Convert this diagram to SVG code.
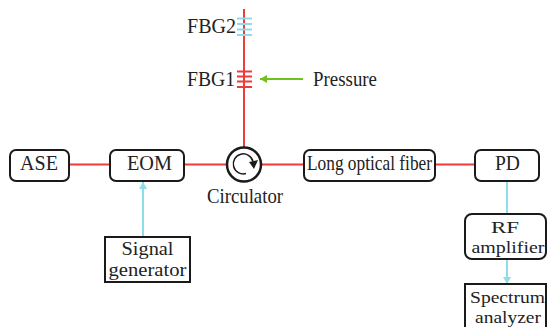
<svg xmlns="http://www.w3.org/2000/svg" width="547" height="327" viewBox="0 0 547 327">
<defs>
<marker id="blue" markerUnits="userSpaceOnUse" markerWidth="8" markerHeight="8" refX="7" refY="4" orient="auto"><path d="M0 0L7 4L0 8Z" fill="#8fdcea"/></marker>
<marker id="green" markerUnits="userSpaceOnUse" markerWidth="8" markerHeight="8" refX="7" refY="4" orient="auto"><path d="M0 0L7 4L0 8Z" fill="#6fc21a"/></marker>
</defs>
<style>
text{font-family:"Liberation Serif","Times New Roman",serif;fill:#222;text-anchor:middle;font-size:21px}
.two{font-size:18.500px}
.tight{font-size:17px}
.box{fill:#fff;stroke:#1a1a1a;stroke-width:2}
.r{stroke:#ee3b3b;stroke-width:2;fill:none}
.b{stroke:#8fdcea;stroke-width:2;fill:none}
</style>
<rect width="547" height="327" fill="#fff"/>
<g id="connectors">
<path class="r" d="M244 9V147M69 164.500H110M184 164.500H227M261 164.500H304M435 164.500H475"/>
<path class="b" d="M143 237V182" marker-end="url(#blue)"/>
<path class="b" d="M507 181V214M507 259V284" marker-end="url(#blue)"/>
<path d="M303 79H260" stroke="#6fc21a" stroke-width="2" fill="none" marker-end="url(#green)"/>
</g>
<g id="FBG2"><path class="b" d="M237 18.500H252M237 24H252M237 29.500H252M237 35H252"/><text x="211.500" y="33" textLength="49" lengthAdjust="spacingAndGlyphs">FBG2</text></g>
<g id="FBG1"><path d="M237 71.500H252M237 76.500H252M237 81.500H252M237 87H252" stroke="#ee3b3b" stroke-width="2" fill="none"/><text x="211" y="86" textLength="48" lengthAdjust="spacingAndGlyphs">FBG1</text></g>
<g id="Pressure"><text x="345" y="86" textLength="64" lengthAdjust="spacingAndGlyphs">Pressure</text></g>
<g id="ASE"><rect class="box" x="10" y="150" width="59" height="31" rx="6"/><text x="39" y="170" textLength="38" lengthAdjust="spacingAndGlyphs">ASE</text></g>
<g id="EOM"><rect class="box" x="110" y="150" width="74" height="31" rx="6"/><text x="149.500" y="170" textLength="45" lengthAdjust="spacingAndGlyphs">EOM</text></g>
<g id="Circulator"><circle cx="244" cy="164.500" r="17" fill="#fff" stroke="#1a1a1a" stroke-width="2.500"/><path d="M246 173.500A10 10 0 1 1 253 161.500" fill="none" stroke="#1a1a1a" stroke-width="1.500"/><path d="M249 162L258 160L254 169Z" fill="#1a1a1a"/><text x="245" y="203" textLength="76" lengthAdjust="spacingAndGlyphs">Circulator</text></g>
<g id="Long"><rect class="box" x="304" y="150" width="131" height="31" rx="6"/><text x="369.500" y="170" textLength="125" lengthAdjust="spacingAndGlyphs">Long optical fiber</text></g>
<g id="PD"><rect class="box" x="475" y="150" width="64" height="31" rx="6"/><text x="507.500" y="170" textLength="25" lengthAdjust="spacingAndGlyphs">PD</text></g>
<g id="Signal"><rect class="box" x="105" y="237" width="85" height="45"/><text class="two" x="147.500" y="255" textLength="52" lengthAdjust="spacingAndGlyphs">Signal</text><text class="two" x="147.500" y="276" textLength="78" lengthAdjust="spacingAndGlyphs">generator</text></g>
<g id="RF"><rect class="box" x="465" y="214" width="81" height="45" rx="7"/><text class="tight" x="505" y="233" textLength="28" lengthAdjust="spacingAndGlyphs">RF</text><text class="tight" x="508" y="253" textLength="73" lengthAdjust="spacingAndGlyphs">amplifier</text></g>
<g id="Spectrum"><path class="box" d="M465 327V284H546V327"/><text class="tight" x="507.500" y="303" textLength="75" lengthAdjust="spacingAndGlyphs">Spectrum</text><text class="tight" x="508" y="323" textLength="66" lengthAdjust="spacingAndGlyphs">analyzer</text></g>
</svg>
